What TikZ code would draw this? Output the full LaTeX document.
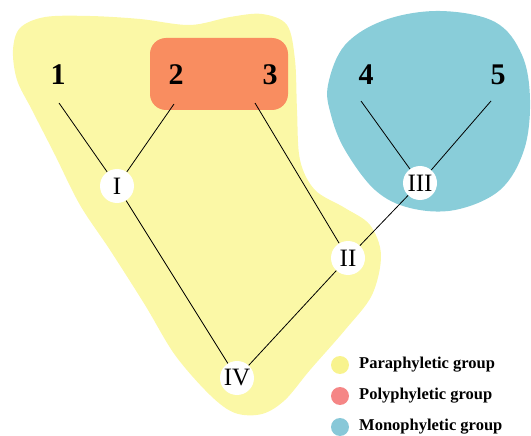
\documentclass[tikz,border=0pt]{standalone}
\usepackage{fontspec}
\setmainfont{Liberation Serif}
\begin{document}
\begin{tikzpicture}[x=1pt,y=-1pt,
  taxon/.style={font=\fontsize{30}{30}\selectfont\bfseries, inner sep=0pt},
  clade/.style={circle, fill=white, minimum size=34pt, inner sep=0pt,
                font=\fontsize{25}{25}\selectfont},
  branch/.style={line width=0.8pt, black},
  key/.style={circle, minimum size=18pt, inner sep=0pt},
  keytext/.style={anchor=west, inner sep=0pt, font=\fontsize{16.5}{16.5}\selectfont\bfseries}]
\definecolor{paraY}{HTML}{FBF8A6}
\definecolor{polyR}{HTML}{F98D60}
\definecolor{monoB}{HTML}{89CDD9}
\definecolor{keyY}{HTML}{F8F38E}
\definecolor{keyR}{HTML}{F58686}
\definecolor{keyB}{HTML}{88C8D8}
\useasboundingbox (0,0) rectangle (531,436);

% group outlines
\fill[paraY] plot[smooth cycle, tension=0.55] coordinates {
  (13,50) (20,28) (45,17) (90,16) (140,19) (190,25) (230,17) (262,14) (287,25)
  (295,60) (297,110) (300,160) (315,190) (345,208) (370,225) (381,255)
  (372,295) (345,330) (310,370) (285,400) (262,414) (235,413) (210,395)
  (175,355) (145,305) (110,250) (80,205) (55,155) (32,110) (17,80)};
\fill[monoB] plot[smooth cycle, tension=0.6] coordinates {
  (328,85) (345,45) (385,20) (440,11) (495,22) (522,55) (530,100)
  (524,150) (500,190) (455,210) (410,208) (375,190) (345,150) (331,115)};
\fill[polyR, rounded corners=16pt] (150,38) rectangle (288,110);

% taxa
\node[taxon] (n1) at (58,75) {1};
\node[taxon] (n2) at (176,75) {2};
\node[taxon] (n3) at (270,75) {3};
\node[taxon] (n4) at (366,75) {4};
\node[taxon] (n5) at (498,75) {5};
\coordinate (e1) at (59,103);
\coordinate (e2) at (174,104);
\coordinate (e3) at (255,103);
\coordinate (e4) at (361,101);
\coordinate (e5) at (491,101);

% internal nodes
\node[clade] (I) at (117,186) {I};
\node[clade] (II) at (348,258) {II};
\node[clade] (III) at (420,183) {III};
\node[clade] (IV) at (237,378) {IV};

% branches
\draw[branch] (e1) -- (I);
\draw[branch] (e2) -- (I);
\draw[branch] (e3) -- (II);
\draw[branch] (e4) -- (III);
\draw[branch] (e5) -- (III);
\draw[branch] (III) -- (II);
\draw[branch] (I) -- (IV);
\draw[branch] (II) -- (IV);

% legend
\node[key, fill=keyY] (k1) at (340,365) {};
\node[key, fill=keyR] (k2) at (340,396) {};
\node[key, fill=keyB] (k3) at (340,427) {};
\node[keytext] (t1) at (359,365) {Paraphyletic group};
\node[keytext] (t2) at (359,396) {Polyphyletic group};
\node[keytext] (t3) at (359,427) {Monophyletic group};
\end{tikzpicture}
\end{document}
